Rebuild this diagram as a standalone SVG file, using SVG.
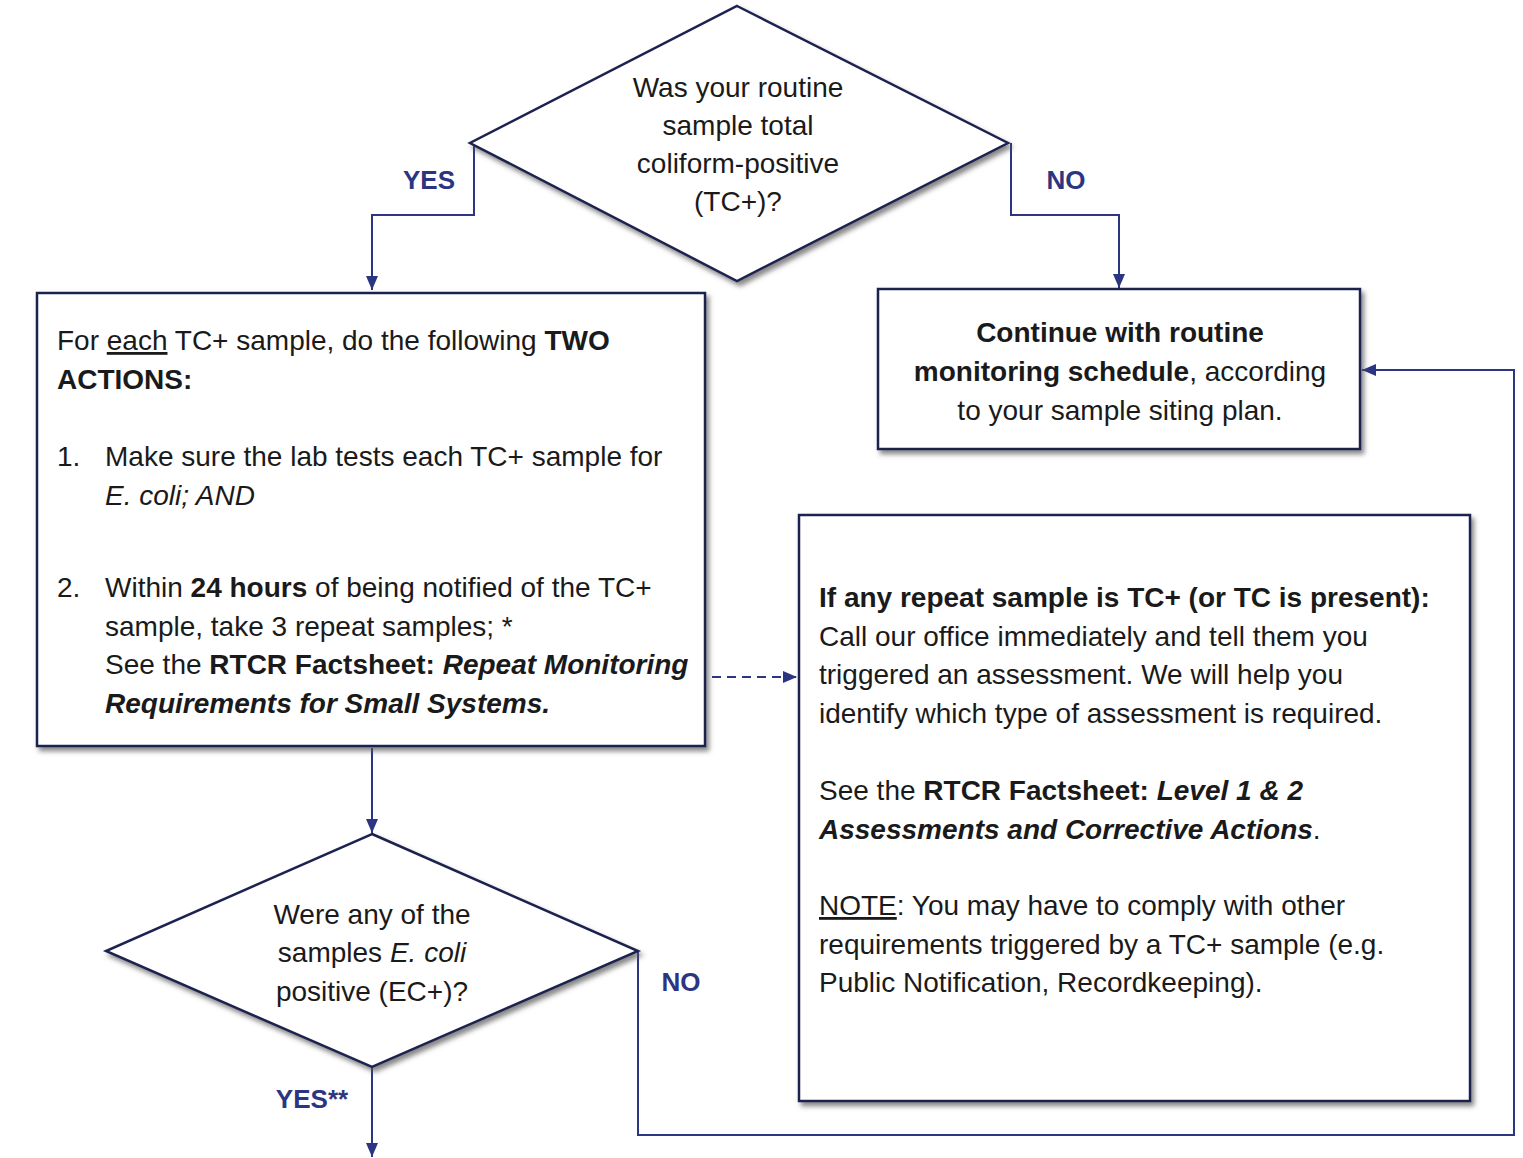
<svg xmlns="http://www.w3.org/2000/svg" width="1523" height="1158" viewBox="0 0 1523 1158">
<defs>
<style>
text{font-family:"Liberation Sans",Arial,sans-serif;font-size:28px;fill:#1a1a1a}
.c{text-anchor:middle}
.b{font-weight:bold}
.i{font-style:italic}
.lbl{font-weight:bold;fill:#2b3582;font-size:26px;text-anchor:middle}
.node{fill:#ffffff;stroke:#1f2450;stroke-width:2.5}
.conn{fill:none;stroke:#2b3582;stroke-width:2}
</style>
<filter id="sh" x="-5%" y="-5%" width="115%" height="120%">
<feDropShadow dx="3" dy="4" stdDeviation="2.5" flood-color="#555" flood-opacity="0.7"/>
</filter>
<marker id="ah" markerWidth="16" markerHeight="14" refX="14" refY="7" orient="auto" markerUnits="userSpaceOnUse">
<path d="M0,1 L14,7 L0,13 Z" fill="#2b3582"/>
</marker>
</defs>
<rect width="1523" height="1158" fill="#ffffff"/>

<g id="connectors">
<polyline class="conn" points="474,143 474,215 372,215 372,290" marker-end="url(#ah)"/>
<polyline class="conn" points="1011,143 1011,215 1119,215 1119,288" marker-end="url(#ah)"/>
<line class="conn" x1="372" y1="748" x2="372" y2="833" marker-end="url(#ah)"/>
<line class="conn" x1="712" y1="677" x2="797" y2="677" stroke-dasharray="9,6" marker-end="url(#ah)"/>
<line class="conn" x1="372" y1="1068" x2="372" y2="1157" marker-end="url(#ah)"/>
<polyline class="conn" points="638,951 638,1135 1514,1135 1514,370 1362,370" marker-end="url(#ah)"/>
<text class="lbl" x="429" y="189">YES</text>
<text class="lbl" x="1066" y="189">NO</text>
<text class="lbl" x="681" y="991">NO</text>
<text class="lbl" x="312" y="1108">YES**</text>
</g>

<g id="q1">
<polygon class="node" filter="url(#sh)" points="737,6 1008,143 737,281 470,143"/>
<text class="c" x="738" y="97">Was your routine</text>
<text class="c" x="738" y="135">sample total</text>
<text class="c" x="738" y="173">coliform-positive</text>
<text class="c" x="738" y="211">(TC+)?</text>
</g>

<g id="actions">
<rect class="node" filter="url(#sh)" x="37" y="293" width="668" height="453"/>
<text x="57" y="350">For <tspan text-decoration="underline">each</tspan> TC+ sample, do the following <tspan class="b">TWO</tspan></text>
<text x="57" y="389" class="b">ACTIONS:</text>
<text x="57" y="466">1.</text>
<text x="105" y="466">Make sure the lab tests each TC+ sample for</text>
<text x="105" y="505" class="i">E. coli; AND</text>
<text x="57" y="597">2.</text>
<text x="105" y="597">Within <tspan class="b">24 hours</tspan> of being notified of the TC+</text>
<text x="105" y="636">sample, take 3 repeat samples; *</text>
<text x="105" y="674">See the <tspan class="b">RTCR Factsheet: </tspan><tspan class="b i">Repeat Monitoring</tspan></text>
<text x="105" y="713" class="b i">Requirements for Small Systems.</text>
</g>

<g id="continue">
<rect class="node" filter="url(#sh)" x="878" y="289" width="482" height="160"/>
<text class="c b" x="1120" y="342">Continue with routine</text>
<text class="c" x="1120" y="381"><tspan class="b">monitoring schedule</tspan>, according</text>
<text class="c" x="1120" y="420">to your sample siting plan.</text>
</g>

<g id="assessment">
<rect class="node" filter="url(#sh)" x="799" y="515" width="671" height="586"/>
<text x="819" y="607" class="b">If any repeat sample is TC+ (or TC is present):</text>
<text x="819" y="646">Call our office immediately and tell them you</text>
<text x="819" y="684">triggered an assessment. We will help you</text>
<text x="819" y="723">identify which type of assessment is required.</text>
<text x="819" y="800">See the <tspan class="b">RTCR Factsheet: </tspan><tspan class="b i">Level 1 &amp; 2</tspan></text>
<text x="819" y="839"><tspan class="b i">Assessments and Corrective Actions</tspan>.</text>
<text x="819" y="915"><tspan text-decoration="underline">NOTE</tspan>: You may have to  comply with other</text>
<text x="819" y="954">requirements triggered by a TC+ sample (e.g.</text>
<text x="819" y="992">Public Notification, Recordkeeping).</text>
</g>

<g id="q2">
<polygon class="node" filter="url(#sh)" points="372,834 638,951 372,1067 106,951"/>
<text class="c" x="372" y="924">Were any of the</text>
<text class="c" x="372" y="962">samples <tspan class="i">E. coli</tspan></text>
<text class="c" x="372" y="1001">positive (EC+)?</text>
</g>
</svg>
